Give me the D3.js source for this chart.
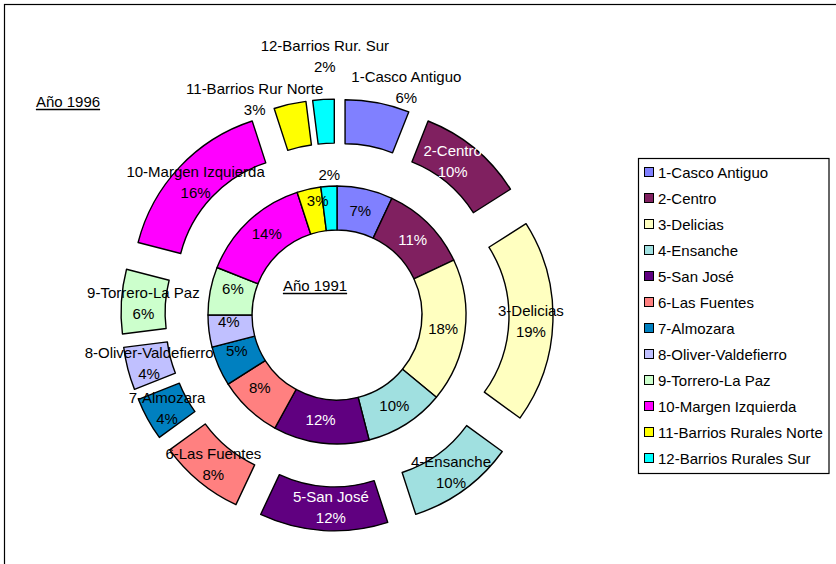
<!DOCTYPE html>
<html lang="es">
<head>
<meta charset="utf-8">
<title>Distribución por distritos 1991 / 1996</title>
<script src="https://cdn.jsdelivr.net/npm/d3@7/dist/d3.min.js"></script>
<style>
  html, body { margin: 0; padding: 0; background: #fff; }
  svg { display: block; font-family: "Liberation Sans", Arial, sans-serif; }
</style>
</head>
<body>
<svg id="chart" width="836" height="564"></svg>
<script>
// District names (legend) and short names used on the outer ring
const categories = [
  "1-Casco Antiguo", "2-Centro", "3-Delicias", "4-Ensanche", "5-San José",
  "6-Las Fuentes", "7-Almozara", "8-Oliver-Valdefierro", "9-Torrero-La Paz",
  "10-Margen Izquierda", "11-Barrios Rurales Norte", "12-Barrios Rurales Sur"
];
const outerNames = [
  "1-Casco Antiguo", "2-Centro", "3-Delicias", "4-Ensanche", "5-San José",
  "6-Las Fuentes", "7-Almozara", "8-Oliver-Valdefierro", "9-Torrero-La Paz",
  "10-Margen Izquierda", "11-Barrios Rur Norte", "12-Barrios Rur. Sur"
];
// Share of each district (%), inner ring = 1991, outer ring = 1996
const share1991 = [7, 11, 18, 10, 12, 8, 5, 4, 6, 14, 3, 2];
const share1996 = [6, 10, 19, 10, 12, 8, 4, 4, 6, 16, 3, 2];

// Fill palette, one per district
const palette = [
  "#8080FF", "#802060", "#FFFFC0", "#A0E0E0", "#600080", "#FF8080",
  "#0080C0", "#C0C0FF", "#CCFFCC", "#FF00FF", "#FFFF00", "#00FFFF"
];
// Districts whose labels are printed in white
const whiteText = new Set(["2-Centro", "5-San José"]);

const svg = d3.select("#chart");
const FONT = 15;

// Chart frame
svg.append("rect")
  .attr("x", 4.5).attr("y", 4.5)
  .attr("width", 860).attr("height", 600)
  .attr("fill", "#fff").attr("stroke", "#000").attr("stroke-width", 1.2);

const cx = 337, cy = 315;
const ringInner = [85, 129];   // 1991 ring radii
const ringOuter = [129, 173];  // 1996 ring radii (before explosion)
const explode = 43;            // radial offset of the exploded 1996 slices

const color = d3.scaleOrdinal().domain(categories).range(palette);

const pie = d3.pie().sort(null).value(d => d.value)
  .startAngle(0).endAngle(2 * Math.PI);

const rows1991 = categories.map((c, i) => ({ cat: c, value: share1991[i] }));
const rows1996 = categories.map((c, i) => ({ cat: c, name: outerNames[i], value: share1996[i] }));

const arcIn = d3.arc().innerRadius(ringInner[0]).outerRadius(ringInner[1]);
const arcOut = d3.arc().innerRadius(ringOuter[0]).outerRadius(ringOuter[1]);
const arcInLabel = d3.arc().innerRadius(107).outerRadius(107);
const arcOutLabel = d3.arc().innerRadius(151).outerRadius(151);

const mid = d => (d.startAngle + d.endAngle) / 2;
const shift = d => [Math.sin(mid(d)) * explode, -Math.cos(mid(d)) * explode];

const g = svg.append("g").attr("transform", `translate(${cx},${cy})`);

// Inner ring (1991)
const inner = pie(rows1991);
g.append("g").selectAll("path").data(inner).join("path")
  .attr("d", arcIn)
  .attr("fill", d => color(d.data.cat))
  .attr("stroke", "#000").attr("stroke-width", 1.4)
  .attr("stroke-linejoin", "round");

// Outer ring (1996), each slice pushed out along its bisector
const outer = pie(rows1996);
g.append("g").selectAll("path").data(outer).join("path")
  .attr("transform", d => `translate(${shift(d)})`)
  .attr("d", arcOut)
  .attr("fill", d => color(d.data.cat))
  .attr("stroke", "#000").attr("stroke-width", 1.4)
  .attr("stroke-linejoin", "round");

// Hand-placed label offsets (thin slices and a few crowded ones)
const innerNudge = {
  "6-Las Fuentes": [-4, -5],
  "7-Almozara": [-2, -7],
  "8-Oliver-Valdefierro": [-2, -7],
  "9-Torrero-La Paz": [1, -6],
  "10-Margen Izquierda": [3, -4],
  "5-San José": [-3, -2],
  "11-Barrios Rurales Norte": [4, -10],
  "12-Barrios Rurales Sur": [-1, -34]
};
const outerNudge = {
  "1-Casco Antiguo": [33, -37],
  "2-Centro": [-8, -5],
  "5-San José": [6, -2],
  "11-Barrios Rur Norte": [-40, -27],
  "12-Barrios Rur. Sur": [0, -65]
};
const outsideRing = new Set(["12-Barrios Rurales Sur"]);

const txtColor = (cat, inside) => inside && whiteText.has(cat) ? "#fff" : "#000";

// Inner ring percentages
g.append("g").selectAll("text").data(inner).join("text")
  .attr("transform", d => {
    const [x, y] = arcInLabel.centroid(d);
    const n = innerNudge[d.data.cat] || [0, 0];
    return `translate(${x + n[0]},${y + n[1]})`;
  })
  .attr("text-anchor", "middle").attr("dominant-baseline", "central")
  .attr("font-size", FONT)
  .attr("fill", d => txtColor(d.data.cat, !outsideRing.has(d.data.cat)))
  .text(d => `${d.data.value}%`);

// Outer ring labels: name + percentage
const outLab = g.append("g").selectAll("text").data(outer).join("text")
  .attr("transform", d => {
    const [x, y] = arcOutLabel.centroid(d);
    const [sx, sy] = shift(d);
    const n = outerNudge[d.data.name] || [0, 0];
    return `translate(${x + sx + n[0]},${y + sy + n[1]})`;
  })
  .attr("text-anchor", "middle")
  .attr("font-size", FONT)
  .attr("fill", d => txtColor(d.data.cat, true));
outLab.append("tspan").attr("x", 0).attr("y", -10.5)
  .attr("dominant-baseline", "central").text(d => d.data.name);
outLab.append("tspan").attr("x", 0).attr("y", 10.5)
  .attr("dominant-baseline", "central").text(d => `${d.data.value}%`);

// Underlined year captions
function caption(x, y, label) {
  const t = svg.append("text").attr("x", x).attr("y", y)
    .attr("text-anchor", "middle").attr("dominant-baseline", "central")
    .attr("font-size", FONT).text(label);
  const w = t.node().getComputedTextLength();
  svg.append("line")
    .attr("x1", x - w / 2).attr("x2", x + w / 2)
    .attr("y1", y + 8.5).attr("y2", y + 8.5)
    .attr("stroke", "#000").attr("stroke-width", 1.6);
}
caption(68, 101, "Año 1996");
caption(315, 285, "Año 1991");

// Legend
const legend = svg.append("g");
legend.append("rect")
  .attr("x", 638.5).attr("y", 158.5).attr("width", 190.5).attr("height", 315)
  .attr("fill", "#fff").attr("stroke", "#000").attr("stroke-width", 1.2);
const rowY = d3.scalePoint().domain(categories).range([172, 458]);
const item = legend.selectAll("g.item").data(categories).join("g")
  .attr("class", "item")
  .attr("transform", c => `translate(644,${rowY(c)})`);
item.append("rect")
  .attr("x", 0.5).attr("y", -4.5).attr("width", 9).attr("height", 9)
  .attr("fill", c => color(c)).attr("stroke", "#000").attr("stroke-width", 1);
item.append("text")
  .attr("x", 14).attr("y", 0).attr("dominant-baseline", "central")
  .attr("font-size", FONT).text(c => c);
</script>
</body>
</html>
